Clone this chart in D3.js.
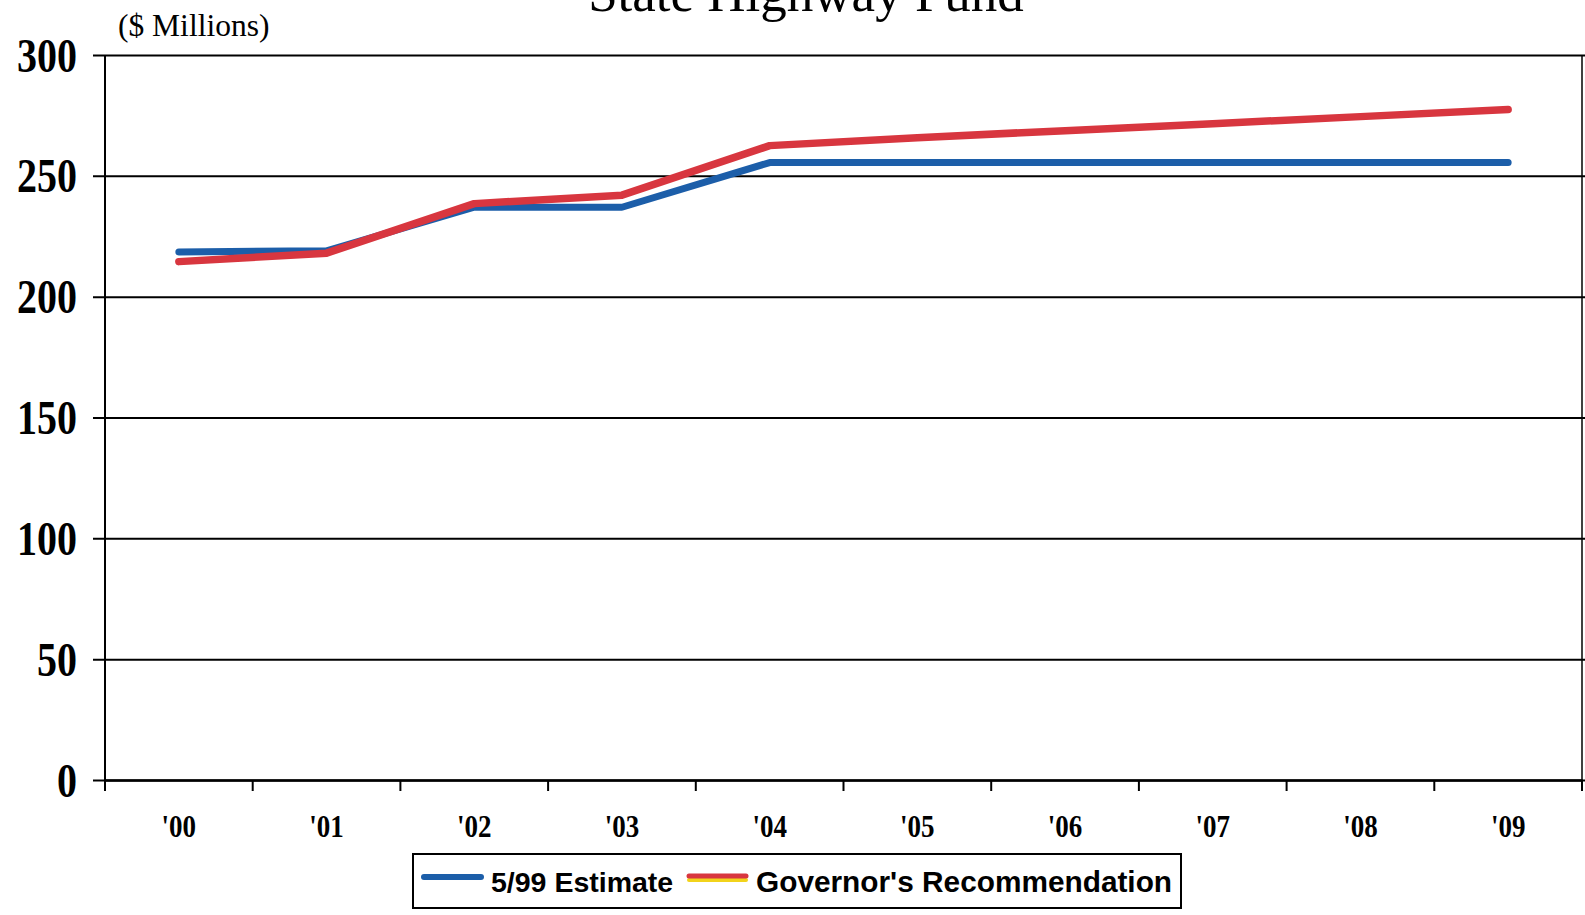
<!DOCTYPE html>
<html>
<head>
<meta charset="utf-8">
<script src="https://cdn.jsdelivr.net/npm/d3@7"></script>
<style>
  html, body { margin: 0; padding: 0; background: #fff; }
  svg { display: block; }
</style>
</head>
<body>
<svg id="chart" width="1585" height="915"></svg>
<script>
// ---- data ----
const years = ["'00", "'01", "'02", "'03", "'04", "'05", "'06", "'07", "'08", "'09"];
const estimate = [218.5, 219, 237, 237, 255.5, 255.5, 255.5, 255.5, 255.5, 255.5];
const governor = [214.5, 218, 238.5, 242, 262.5, 265.8, 268.7, 271.6, 274.5, 277.4];
const yTicks = [0, 50, 100, 150, 200, 250, 300];
const seriesNames = ["5/99 Estimate", "Governor's Recommendation"];
const title = "State Highway Fund";
const unitLabel = "($ Millions)";

(function () {
// ---- layout ----
const svg = d3.select("#chart");
const mLeft = 105, mRight = 1582, mTop = 55, mBottom = 780;

const x = d3.scaleBand().domain(years).range([mLeft, mRight]).padding(0);
const y = d3.scaleLinear().domain([0, 300]).range([mBottom, mTop]);

// title (cut off at the top like the scan)
svg.append("text")
  .attr("x", 806).attr("y", 11)
  .attr("text-anchor", "middle")
  .attr("font-family", "'Liberation Serif', 'Times New Roman', serif")
  .attr("font-size", 53)
  .text(title);

svg.append("text")
  .attr("x", 118).attr("y", 36)
  .attr("font-family", "'Liberation Serif', 'Times New Roman', serif")
  .attr("font-size", 31.5)
  .text(unitLabel);

// horizontal gridlines with outward ticks
const gy = svg.append("g")
  .attr("transform", `translate(${mLeft},0)`)
  .call(d3.axisLeft(y).tickValues(yTicks).tickSize(0).tickPadding(28)
    .tickFormat(d3.format("d")));
gy.select(".domain").remove();
gy.selectAll(".tick line")
  .attr("x1", -12)
  .attr("x2", 1585 - mLeft)
  .attr("stroke", "#000").attr("stroke-width", 2);
gy.selectAll(".tick text")
  .attr("fill", "#000")
  .attr("font-family", "'Liberation Serif', 'Times New Roman', serif")
  .attr("font-weight", "bold")
  .attr("font-size", 40)
  .attr("x", 0).attr("y", 0).attr("dy", 0)
  .attr("transform", "translate(-28,16) scale(1,1.2)");

// y axis vertical line
svg.append("line")
  .attr("x1", mLeft).attr("x2", mLeft)
  .attr("y1", y(300)).attr("y2", y(0))
  .attr("stroke", "#000").attr("stroke-width", 2);
// right border
svg.append("line")
  .attr("x1", mRight).attr("x2", mRight)
  .attr("y1", y(300)).attr("y2", y(0) + 10)
  .attr("stroke", "#000").attr("stroke-width", 1.5);

// x axis with ticks at band boundaries
const gx = svg.append("g")
  .attr("transform", `translate(0,${mBottom})`)
  .call(d3.axisBottom(x).tickSize(0).tickPadding(46));
gx.select(".domain").attr("stroke", "#000").attr("stroke-width", 2.5);
gx.selectAll(".tick text")
  .attr("fill", "#000")
  .attr("font-family", "'Liberation Serif', 'Times New Roman', serif")
  .attr("font-weight", "bold")
  .attr("font-size", 27)
  .attr("y", 0).attr("dy", 0)
  .attr("transform", "translate(0,57) scale(1,1.2)");
const bounds = years.map(d => x(d)).concat([x(years[years.length - 1]) + x.bandwidth()]);
gx.selectAll(".bt").data(bounds).enter().append("line")
  .attr("class", "bt")
  .attr("x1", d => d).attr("x2", d => d)
  .attr("y1", 0).attr("y2", 11)
  .attr("stroke", "#000").attr("stroke-width", 2);

// lines
const cx = d => x(d) + x.bandwidth() / 2;
const line = d3.line().x(d => cx(d[0])).y(d => y(d[1]));

svg.append("path")
  .datum(years.map((d, i) => [d, estimate[i]]))
  .attr("d", line)
  .attr("fill", "none")
  .attr("stroke", "#1c5ea9")
  .attr("stroke-width", 7)
  .attr("stroke-linecap", "round")
  .attr("stroke-linejoin", "round");

svg.append("path")
  .datum(years.map((d, i) => [d, governor[i]]))
  .attr("d", line)
  .attr("fill", "none")
  .attr("stroke", "#d8363f")
  .attr("stroke-width", 7.5)
  .attr("stroke-linecap", "round")
  .attr("stroke-linejoin", "round");

// legend
const lg = svg.append("g");
lg.append("rect")
  .attr("x", 413).attr("y", 854)
  .attr("width", 768).attr("height", 54)
  .attr("fill", "#fff").attr("stroke", "#000").attr("stroke-width", 2);
lg.append("line")
  .attr("x1", 424).attr("x2", 481).attr("y1", 877).attr("y2", 877)
  .attr("stroke", "#1c5ea9").attr("stroke-width", 6).attr("stroke-linecap", "round");
lg.append("text")
  .attr("x", 491).attr("y", 892)
  .attr("font-family", "'Liberation Sans', Arial, sans-serif")
  .attr("font-weight", "bold")
  .attr("font-size", 28.5)
  .text(seriesNames[0]);
lg.append("line")
  .attr("x1", 689).attr("x2", 746).attr("y1", 880).attr("y2", 880)
  .attr("stroke", "#f2d31b").attr("stroke-width", 4).attr("stroke-linecap", "round");
lg.append("line")
  .attr("x1", 689).attr("x2", 746).attr("y1", 876).attr("y2", 876)
  .attr("stroke", "#d8363f").attr("stroke-width", 5).attr("stroke-linecap", "round");
lg.append("text")
  .attr("x", 756).attr("y", 892)
  .attr("font-family", "'Liberation Sans', Arial, sans-serif")
  .attr("font-weight", "bold")
  .attr("font-size", 29.8)
  .text(seriesNames[1]);
})();
</script>
</body>
</html>
